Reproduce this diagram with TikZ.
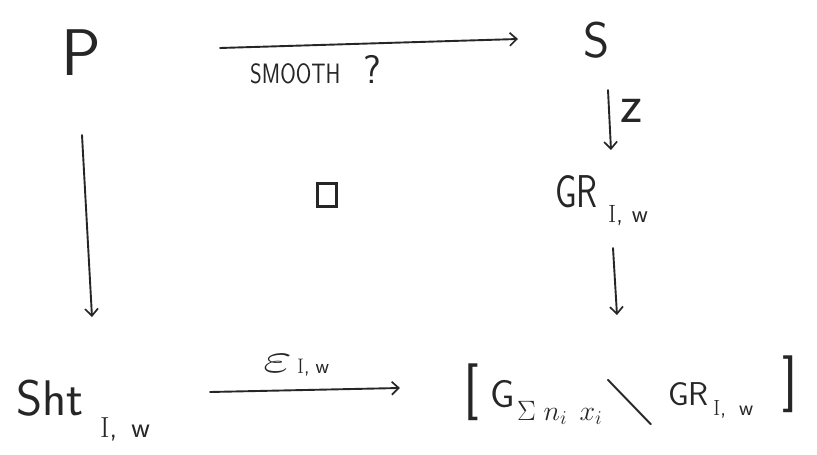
\RequirePackage{fix-cm}
\documentclass[tikz,border=0pt]{standalone}
\usepackage{amssymb}
\usepackage{graphicx}
\usetikzlibrary{arrows.meta}
\definecolor{ink}{HTML}{262626}
\newcommand{\fsz}[1]{\fontsize{#1}{#1}\selectfont}
\newcommand{\putat}[3]{\rlap{\hspace*{#1}\raisebox{#2}{#3}}}
\newcommand{\Iw}[1]{{\rmfamily I},\hspace{#1}w}
\begin{document}
\begin{tikzpicture}[x=1pt,y=-1pt,
  lbl/.style={inner sep=0pt, text=ink, font=\sffamily},
  arr/.style={draw=ink, line width=1.9pt, line cap=round,
    -{Straight Barb[length=7pt,width=13pt,line width=1.7pt]}},
  pb/.style={draw=ink, line width=2.4pt, minimum width=19pt, minimum height=23pt, inner sep=0pt}
]
\useasboundingbox[fill=white] (0,0) rectangle (817,455);

% objects
\node[lbl, anchor=base] (P) at (81,75) {\fsz{66}P};
\node[lbl, anchor=base] (S) at (597,57) {\fsz{50}S};
\node[lbl, anchor=base west] (GR) at (555,207) {\makebox[96pt][l]{%
  \putat{0pt}{0pt}{\fsz{46}\scalebox{0.75}[1]{GR}}%
  \putat{53pt}{-15pt}{\fsz{25}\Iw{9pt}}}};
\node[lbl, anchor=base west] (Sht) at (16,415) {\makebox[137pt][l]{%
  \putat{0pt}{0pt}{\fsz{50}Sht}%
  \putat{84pt}{-22pt}{\fsz{29}\Iw{14pt}}}};
\node[lbl, anchor=base west] (T) at (463,407) {\makebox[340pt][l]{%
  \putat{0pt}{1pt}{\fsz{57}[}%
  \putat{27pt}{0pt}{\fsz{39}G}%
  \putat{54pt}{-13pt}{\fsz{28}$\Sigma\; n_i\;\, x_i$}%
  \putat{144pt}{-8pt}{\fsz{52}$\diagdown$}%
  \putat{205pt}{2pt}{\fsz{33}GR}%
  \putat{250pt}{-8pt}{\fsz{22}\Iw{13pt}}%
  \putat{319pt}{9pt}{\fsz{57}]}}};

% labels
\node[lbl, anchor=base west] (smooth) at (250,83) {\makebox[130pt][l]{%
  \putat{0pt}{0pt}{\fsz{28}\scalebox{0.8}[1]{SMOOTH}}%
  \putat{113pt}{0pt}{\fsz{40}?}}};
\node[lbl, anchor=base] (zl) at (632,122) {\fsz{54}z};
\node[lbl, anchor=base west] (eps) at (263,372) {\makebox[70pt][l]{%
  \putat{0pt}{0pt}{\fsz{42}\scalebox{1.5}[1]{$\varepsilon$}}%
  \putat{34pt}{-1pt}{\fsz{21}\Iw{6pt}}}};
\node[pb] (sq) at (327,195) {};

% connectors
\draw[arr] ([shift={(139,-27)}]P.base) -- ([shift={(-79,-18)}]S.base);
\draw[arr] ([shift={(1,60)}]P.base) -- ([shift={(76,-98)}]Sht.base west);
\draw[arr] ([shift={(11,33)}]S.base) -- ([shift={(56,-57)}]GR.base west);
\draw[arr] ([shift={(58,41)}]GR.base west) -- ([shift={(154,-92)}]T.base west);
\draw[arr] ([shift={(194,-23)}]Sht.base west) -- ([shift={(-63,-19)}]T.base west);
\end{tikzpicture}
\end{document}
